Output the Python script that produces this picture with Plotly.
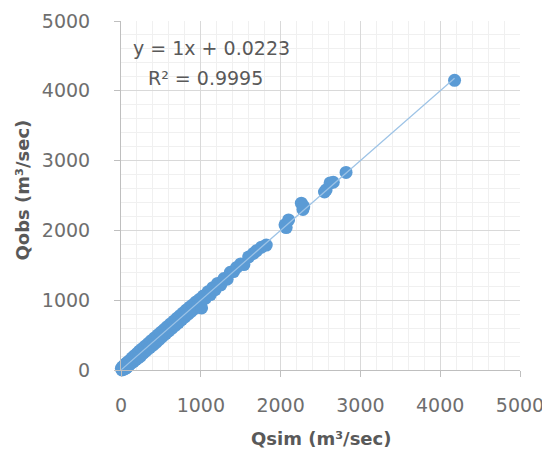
import plotly.graph_objects as go

qsim = [5, 12, 20, 30, 40, 50, 60, 70, 80, 95, 110, 125, 140, 155, 170, 185, 200, 215,
        230, 245, 260, 280, 300, 320, 340, 360, 380, 400, 420, 440, 460, 480, 500, 520,
        540, 560, 580, 600, 620, 640, 660, 680, 700, 720, 740, 760, 780, 800, 820, 840,
        860, 880, 900, 920, 940, 960, 980, 1000, 1010,
        1030, 1060, 1090, 1120, 1150, 1180, 1210, 1250, 1290, 1330, 1370, 1410, 1450,
        1500, 1540, 1600, 1660, 1700, 1760, 1820,
        2055, 2070, 2100, 2260, 2280, 2290, 2550, 2570, 2620, 2660, 2820, 4180]
qobs = [25, 0, 45, 10, 65, 20, 90, 35, 110, 60, 140, 95, 175, 120, 205, 150, 235, 175,
        270, 200, 300, 240, 340, 280, 380, 320, 420, 355, 460, 395, 500, 440, 540, 480,
        580, 520, 620, 560, 660, 600, 700, 640, 740, 680, 780, 720, 820, 760, 860, 800,
        900, 840, 935, 880, 975, 920, 1010, 960, 890,
        1060, 1030, 1120, 1080, 1180, 1150, 1240, 1220, 1310, 1300, 1400, 1410, 1470,
        1520, 1510, 1620, 1670, 1710, 1760, 1790,
        2080, 2040, 2150, 2390, 2300, 2340, 2550, 2580, 2680, 2690, 2830, 4150]

# Linear trendline reported on the chart
slope = 1.0
intercept = 0.0223
equation_text = "y = 1x + 0.0223"
r2_text = "R² = 0.9995"

x_ticks = [0, 1000, 2000, 3000, 4000, 5000]
y_ticks = [0, 1000, 2000, 3000, 4000, 5000]

tx = [min(qsim), max(qsim)]
ty = [slope * v + intercept for v in tx]

font_family = "DejaVu Sans, sans-serif"
gray = "#595959"
tick_gray = "#6e6e6e"

fig = go.Figure()
fig.add_trace(go.Scatter(x=qsim, y=qobs, mode="markers",
                         marker=dict(color="#5B9BD5", size=13, line=dict(width=0)),
                         cliponaxis=False, showlegend=False, hoverinfo="x+y"))
fig.add_trace(go.Scatter(x=tx, y=ty, mode="lines",
                         line=dict(color="#9DC3E6", width=1.2),
                         showlegend=False, hoverinfo="skip"))

axis_common = dict(
    range=[0, 5000], dtick=1000, showgrid=True, gridcolor="#D9D9D9", gridwidth=1,
    showline=True, linecolor="#BFBFBF", linewidth=1,
    ticks="outside", ticklen=6, tickcolor="#BFBFBF",
    tickfont=dict(family=font_family, size=19, color=tick_gray),
    zeroline=False, automargin=False,
    minor=dict(dtick=200, showgrid=True, gridcolor="#F0F0F0", gridwidth=1, ticks=""),
)
fig.update_xaxes(**axis_common, tickvals=x_ticks, ticklabelstandoff=12)
fig.update_yaxes(**axis_common, tickvals=y_ticks, ticklabelstandoff=20)

# The page body has an 8px margin, so the figure is 8px smaller and margins compensate
fig.update_layout(
    width=542, height=444,
    margin=dict(l=113, r=30, t=13, b=82),
    paper_bgcolor="white", plot_bgcolor="white",
    font=dict(family=font_family, color=gray),
    annotations=[
        dict(text="<b>Qsim (m³/sec)</b>", xref="paper", yref="paper", x=0.5, y=0,
             yshift=-68, xanchor="center", yanchor="middle", showarrow=False,
             font=dict(size=18, color=gray, family=font_family)),
        dict(text="<b>Qobs (m³/sec)</b>", xref="paper", yref="paper", x=0, y=0.5,
             xshift=-99, yshift=5, textangle=-90, xanchor="center", yanchor="middle",
             showarrow=False, font=dict(size=18, color=gray, family=font_family)),
        dict(text=equation_text, xref="x", yref="y", x=1140, y=4614,
             xanchor="center", yanchor="middle", showarrow=False,
             font=dict(size=19, color=gray, family=font_family)),
        dict(text=r2_text, xref="x", yref="y", x=1065, y=4184,
             xanchor="center", yanchor="middle", showarrow=False,
             font=dict(size=19, color=gray, family=font_family)),
    ],
)

fig.write_html("out.html")
